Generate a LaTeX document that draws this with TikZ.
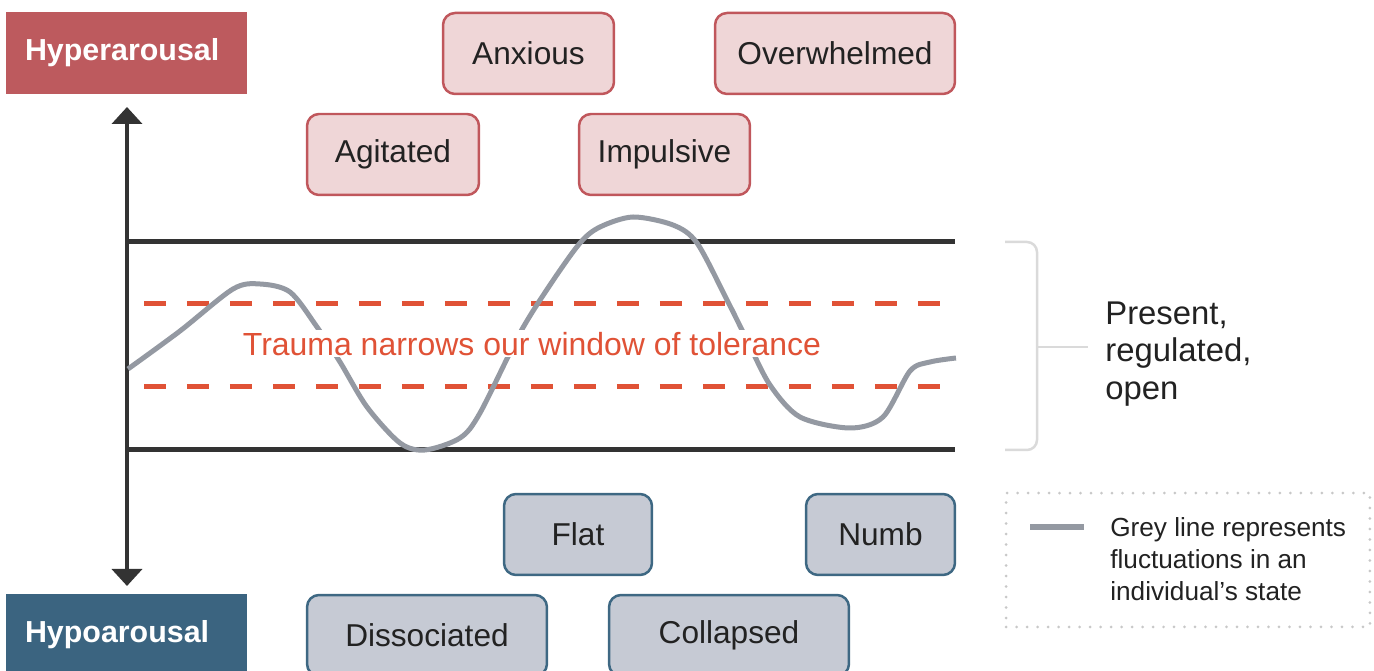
\documentclass[tikz,border=0pt]{standalone}
\usepackage{fontspec}
\setmainfont{Liberation Sans}
\usetikzlibrary{arrows.meta}
\definecolor{hyperc}{HTML}{BD5A5E}
\definecolor{hypoc}{HTML}{3B6480}
\definecolor{pinkf}{HTML}{EFD6D7}
\definecolor{pinkd}{HTML}{C0575C}
\definecolor{greyf}{HTML}{C6CAD4}
\definecolor{greyd}{HTML}{3E6883}
\definecolor{redc}{HTML}{E05236}
\definecolor{curvec}{HTML}{9499A2}
\definecolor{axisc}{HTML}{333333}
\definecolor{textc}{HTML}{222222}
\definecolor{brackc}{HTML}{DADADA}
\definecolor{dotc}{HTML}{C8C8C8}
\tikzset{
  boxbase/.style={rounded corners=0.24cm, line width=0.05cm, minimum height=1.62cm, inner sep=0pt, text=textc, font=\fontsize{18}{22}\selectfont},
  hyperbox/.style={boxbase, fill=pinkf, draw=pinkd},
  hypobox/.style={boxbase, fill=greyf, draw=greyd},
  labelbox/.style={minimum height=1.64cm, text width=4.06cm, align=left, inner xsep=0.38cm, inner ysep=0pt, text=white, font=\bfseries\fontsize{17.3}{20}\selectfont},
  axisline/.style={draw=axisc, line width=0.08cm},
  windowline/.style={draw=axisc, line width=0.1cm},
  redline/.style={draw=redc, line width=0.1cm, dash pattern=on 0.44cm off 0.42cm},
  curveline/.style={draw=curvec, line width=0.1cm, line join=round},
  bracketline/.style={draw=brackc, line width=0.05cm, rounded corners=0.2cm},
  sidetext/.style={anchor=west, align=left, text=textc, inner sep=0pt},
  legendbox/.style={draw=dotc, line width=0.06cm, dash pattern=on 0pt off 0.21cm, line cap=round, minimum width=7.28cm, minimum height=2.68cm, inner sep=0pt}
}
\begin{document}
\begin{tikzpicture}[x=0.02cm, y=-0.02cm]
\useasboundingbox (0,0) rectangle (1374,671);
\clip (0,0) rectangle (1374,671);

% side labels
\node[labelbox, fill=hyperc] (hyper) at (126.5,53) {Hyperarousal};
\node[labelbox, fill=hypoc] (hypo) at (126.5,635) {Hypoarousal};

% vertical axis
\coordinate (axtop) at (127,107);
\coordinate (axbot) at (127,586);
\draw[axisline, {Triangle[width=0.6cm,length=0.34cm]}-{Triangle[width=0.6cm,length=0.34cm]}] (axtop) -- (axbot);

% window lines
\coordinate (wtl) at (125,242); \coordinate (wtr) at (955,242);
\coordinate (wbl) at (125,450); \coordinate (wbr) at (955,450);
\draw[windowline] (wtl) -- (wtr);
\draw[windowline] (wbl) -- (wbr);

% narrowed window dashed lines
\coordinate (dtl) at (144,304); \coordinate (dtr) at (942,304);
\coordinate (dbl) at (144,387); \coordinate (dbr) at (942,387);
\draw[redline] (dtl) -- (dtr);
\draw[redline] (dbl) -- (dbr);

% grey fluctuation curve
\draw[curveline] plot[smooth, tension=0.5] coordinates {
 (128,369) (180,331) (233,289) (260,284) (290,292) (317,327) (340,362) (367,407)
 (400,443) (425,450) (460,438) (480,413) (520,333) (550,285) (580,243) (600,227)
 (633,217) (673,225) (697,243) (727,300) (747,340) (770,385) (800,417) (850,428)
 (883,417) (910,371) (930,362) (956,358)};

% red label (white backing hides the curve behind it)
\node[text=redc, fill=white, font=\fontsize{18.2}{22}\selectfont, inner xsep=1pt, inner ysep=1pt] (trauma) at (532,344) {Trauma narrows our window of tolerance};

% hyperarousal states
\node[hyperbox, minimum width=3.42cm] (anxious) at (528.5,53.5) {Anxious};
\node[hyperbox, minimum width=4.8cm] (overwhelmed) at (835,53.5) {Overwhelmed};
\node[hyperbox, minimum width=3.44cm] (agitated) at (393,154.5) {Agitated};
\node[hyperbox, minimum width=3.42cm] (impulsive) at (664.5,154.5) {Impulsive};

% hypoarousal states
\node[hypobox, minimum width=2.96cm] (flat) at (578,534.5) {Flat};
\node[hypobox, minimum width=2.98cm] (numb) at (880.5,534.5) {Numb};
\node[hypobox, minimum width=4.8cm] (dissociated) at (427,635.5) {Dissociated};
\node[hypobox, minimum width=4.8cm] (collapsed) at (729,635.5) {Collapsed};

% bracket
\coordinate (bt) at (1005,242); \coordinate (btc) at (1037,242);
\coordinate (bbc) at (1037,450); \coordinate (bb) at (1005,450);
\coordinate (bm) at (1037,347); \coordinate (bme) at (1088,347);
\draw[bracketline] (bt) -- (btc) -- (bbc) -- (bb);
\draw[bracketline] (bm) -- (bme);
\node[sidetext, font=\fontsize{18.7}{21.5}\selectfont] (present) at (1105,354) {Present,\\regulated,\\open};

% legend
\node[legendbox] (legend) at (1188,560) {};
\coordinate (ls1) at (1030,527); \coordinate (ls2) at (1084,527);
\draw[draw=curvec, line width=0.12cm] (ls1) -- (ls2);
\node[sidetext, font=\fontsize{14.9}{18.1}\selectfont] (legtext) at (1110,559) {Grey line represents\\fluctuations in an\\individual's state};
\end{tikzpicture}
\end{document}
